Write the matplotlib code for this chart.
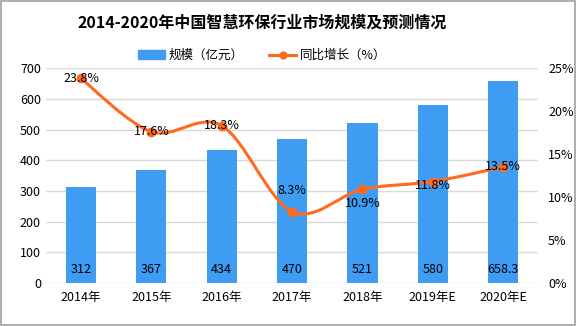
import matplotlib.pyplot as plt
import numpy as np
from matplotlib.path import Path
from matplotlib.patches import PathPatch, Rectangle
from matplotlib.lines import Line2D
from matplotlib.patches import Patch

plt.rcParams['font.family'] = ['Noto Sans CJK SC', 'DejaVu Sans']

years = ['2014年', '2015年', '2016年', '2017年', '2018年', '2019年E', '2020年E']
scale = [312, 367, 434, 470, 521, 580, 658.3]
scale_labels = ['312', '367', '434', '470', '521', '580', '658.3']
growth = [23.8, 17.6, 18.3, 8.3, 10.9, 11.8, 13.5]
# label offsets (pixels) for growth labels
growth_dy = [0, 0, 0, 21, -14, -4, 0]

bar_color = '#3E9CF2'
line_color = '#FF6A1F'

fig = plt.figure(figsize=(5.76, 3.26), dpi=100)
ax = fig.add_axes([0.0795, 0.132, 0.855, 0.659])
ax2 = ax.twinx()

x = np.arange(len(years))
ax.bar(x, scale, width=0.43, color=bar_color, zorder=2)
ax.set_xlim(-0.5, len(years) - 0.5)
ax.set_ylim(0, 700)
ax.set_yticks(range(0, 701, 100))
ax.grid(axis='y', color='#D9D9D9', linewidth=1, zorder=0)
ax.set_axisbelow(True)
ax.set_xticks(x)
ax.set_xticklabels(years, fontsize=9)
ax.tick_params(axis='both', length=0, labelsize=9, colors='black')
ax.tick_params(axis='x', pad=6)
for s in ax.spines.values():
    s.set_visible(False)
for s in ax2.spines.values():
    s.set_visible(False)

for xi, lab in zip(x, scale_labels):
    ax.text(xi, 45, lab, ha='center', va='center', fontsize=9, zorder=3)

# smoothed line (Catmull-Rom -> cubic Bezier)
pts = np.column_stack([x, growth]).astype(float)
verts = [tuple(pts[0])]
codes = [Path.MOVETO]
n = len(pts)
for i in range(n - 1):
    p0 = pts[i - 1] if i > 0 else pts[i]
    p1 = pts[i]
    p2 = pts[i + 1]
    p3 = pts[i + 2] if i + 2 < n else pts[i + 1]
    c1 = p1 + (p2 - p0) / 6.0
    c2 = p2 - (p3 - p1) / 6.0
    verts += [tuple(c1), tuple(c2), tuple(p2)]
    codes += [Path.CURVE4] * 3
ax2.add_patch(PathPatch(Path(verts, codes), facecolor='none', edgecolor=line_color,
                        linewidth=2.2, zorder=4))
ax2.plot(x, growth, 'o', color=line_color, markersize=6, zorder=5)
ax2.set_ylim(0, 25)
ax2.set_yticks(range(0, 26, 5))
ax2.set_yticklabels([f'{v}%' for v in range(0, 26, 5)])
ax2.tick_params(axis='y', length=0, labelsize=9, pad=7)

for xi, g, dy in zip(x, growth, growth_dy):
    ax2.annotate(f'{g}%', (xi, g), xytext=(0, dy * 0.72), textcoords='offset points',
                 ha='center', va='center', fontsize=9, zorder=6)

fig.text(0.455, 0.93, '2014-2020年中国智慧环保行业市场规模及预测情况', ha='center', va='center',
         fontsize=11.5, fontweight='bold')

handles = [Patch(color=bar_color), Line2D([], [], color=line_color, marker='o', lw=2.2, markersize=5)]
fig.legend(handles, ['规模（亿元）', '同比增长（%）'], loc='center', bbox_to_anchor=(0.455, 0.83),
           ncol=2, frameon=False, fontsize=9, handlelength=2.2, columnspacing=2.0, handletextpad=0.3)

fig.patches.append(Rectangle((0.001, 0.002), 0.997, 0.995, transform=fig.transFigure,
                             fill=False, edgecolor='#A0A0A0', linewidth=1.2))

fig.savefig('out.png', dpi=100)
